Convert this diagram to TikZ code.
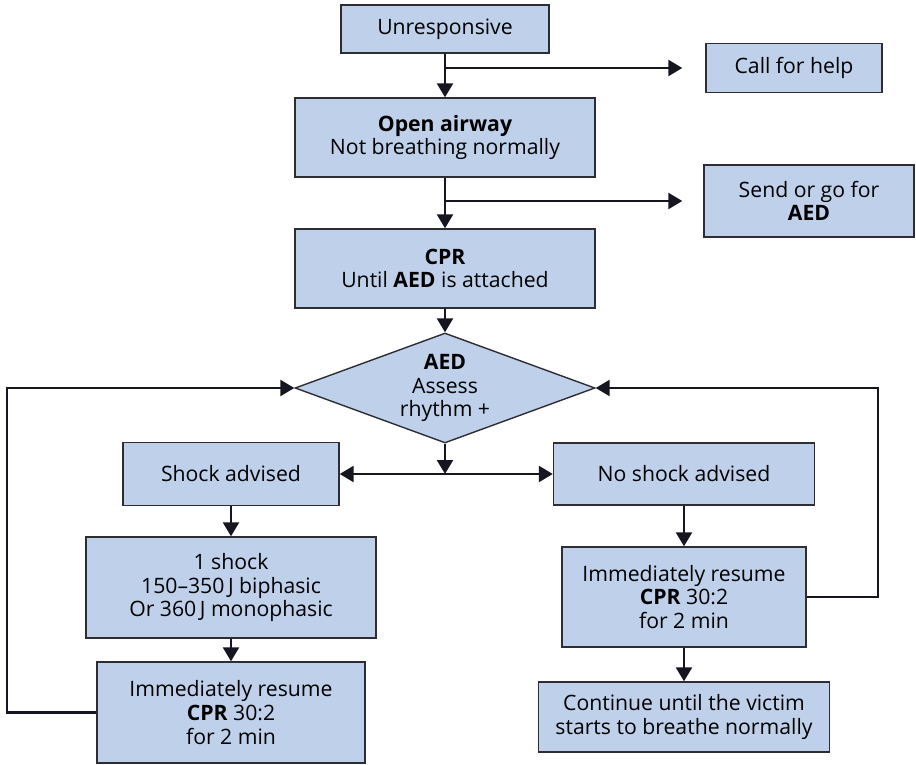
\documentclass[tikz,border=0pt]{standalone}
\usepackage{fontspec}
\setmainfont{Open Sans}
\usetikzlibrary{shapes.geometric, arrows.meta}
\definecolor{BoxBlue}{RGB}{191,208,234}
\definecolor{BoxEdge}{RGB}{45,45,50}
\definecolor{LineInk}{RGB}{22,22,32}

\begin{document}
\begin{tikzpicture}[x=0.5pt, y=-0.5pt,
    box/.style={draw=BoxEdge, line width=0.7pt, fill=BoxBlue, align=center, inner sep=2pt,
        font=\fontsize{10.6}{11.8}\selectfont},
    decision/.style={box, diamond, inner sep=0pt, shape aspect=2.7},
    flow/.style={draw=LineInk, line width=1.2pt, -{Triangle[width=8pt,length=7pt]}}]

        % Page frame
        \fill[white] (0,0) rectangle (916,765);
        \useasboundingbox (0,0) rectangle (916,765);

        % Main column
        \node[box, minimum width=104pt, minimum height=24pt] (unresp) at (445,29) {Unresponsive};
        \node[box, minimum width=150pt, minimum height=39.5pt] (airway) at (445,137.5) {\textbf{Open airway}\\Not breathing normally};
        \node[box, minimum width=150pt, minimum height=39.5pt] (cpr) at (445,268.5) {\textbf{CPR}\\Until \textbf{AED} is attached};
        \node[decision, minimum width=150pt, minimum height=55pt] (assess) at (445,388) {\textbf{AED}\\Assess\\rhythm +};

        % Side boxes
        \node[box, minimum width=88pt, minimum height=24.5pt] (callhelp) at (794,68) {Call for help};
        \node[box, minimum width=105pt, minimum height=36pt] (sendaed) at (809,201) {Send or go for\\\textbf{AED}};

        % Shock branch
        \node[box, minimum width=108pt, minimum height=31.5pt] (shock) at (231,474) {Shock advised};
        \node[box, minimum width=145pt, minimum height=50.5pt] (oneshock) at (231,587.5) {1 shock\\150–350\,J biphasic\\Or 360\,J monophasic};
        \node[box, minimum width=134pt, minimum height=50.5pt] (resumeL) at (231,712.5) {Immediately resume\\\textbf{CPR} 30:2\\for 2 min};

        % No shock branch
        \node[box, minimum width=130.5pt, minimum height=31pt] (noshock) at (684,474) {No shock advised};
        \node[box, minimum width=122pt, minimum height=50pt] (resumeR) at (684,597) {Immediately resume\\\textbf{CPR} 30:2\\for 2 min};
        \node[box, minimum width=145.5pt, minimum height=35pt] (cont) at (684,717) {Continue until the victim\\starts to breathe normally};

        % Turning points
        \coordinate (br1) at (445,68);
        \coordinate (br2) at (445,201);
        \coordinate (split) at (445,474);
        \coordinate (loopL) at (7,388);
        \coordinate (loopR) at (878,388);

        % Draw the arrows down the middle
        \draw[flow] (unresp) -- (airway);
        \draw[flow] (airway) -- (cpr);
        \draw[flow] (cpr) -- (assess);
        \draw[flow] (assess) -- (split);

        % Draw the side arrows
        \draw[flow, shorten >=11.5pt] (br1) -- (callhelp.west);
        \draw[flow, shorten >=10.5pt] (br2) -- (sendaed.west);
        \draw[flow] (split) -- (shock.east);
        \draw[flow] (split) -- (noshock.west);

        % Draw the branches
        \draw[flow] (shock) -- (oneshock);
        \draw[flow] (oneshock) -- (resumeL);
        \draw[flow] (noshock) -- (resumeR);
        \draw[flow] (resumeR) -- (cont);

        % Draw the loops back to the rhythm check
        \draw[flow] (resumeL.west) -| (loopL) -- (assess.west);
        \draw[flow] (resumeR.east) -| (loopR) -- (assess.east);
    \end{tikzpicture}
\end{document}
